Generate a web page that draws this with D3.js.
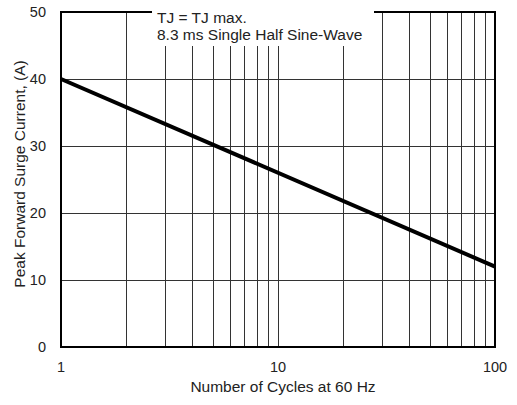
<!DOCTYPE html>
<html>
<head>
<meta charset="utf-8">
<script src="https://cdn.jsdelivr.net/npm/d3@7"></script>
<style>
  body { margin: 0; background: #fff; }
  text { font-family: "Liberation Sans", Arial, sans-serif; fill: #222; }
</style>
</head>
<body>
<div id="chart"></div>
<script>
// values
const cycles = [1, 100];
const current = [40, 12];
const yTicks = [0, 10, 20, 30, 40, 50];
const xTickLabels = [1, 10, 100];
const gridX = [2, 3, 4, 5, 6, 7, 8, 9, 10, 20, 30, 40, 50, 60, 70, 80, 90];
const noteLines = ['TJ = TJ max.', '8.3 ms Single Half Sine-Wave'];

const width = 517, height = 405;
const margin = {top: 12, right: 22, bottom: 58, left: 61};
const w = width - margin.left - margin.right;
const h = height - margin.top - margin.bottom;

const svg = d3.select('#chart').append('svg')
  .attr('width', width)
  .attr('height', height);

const g = svg.append('g')
  .attr('transform', `translate(${margin.left},${margin.top})`);

const x = d3.scaleLog().domain([1, 100]).range([0, w]);
const y = d3.scaleLinear().domain([0, 50]).range([h, 0]);

// grid
g.selectAll('.gx').data(gridX).join('line')
  .attr('class', 'gx')
  .attr('x1', d => Math.round(x(d)) + 0.5).attr('x2', d => Math.round(x(d)) + 0.5)
  .attr('y1', 0).attr('y2', h)
  .attr('stroke', '#333').attr('stroke-width', 1);

g.selectAll('.gy').data(yTicks.slice(1, -1)).join('line')
  .attr('class', 'gy')
  .attr('x1', 0).attr('x2', w)
  .attr('y1', d => Math.round(y(d)) + 0.5).attr('y2', d => Math.round(y(d)) + 0.5)
  .attr('stroke', '#333').attr('stroke-width', 1);

// frame
g.append('rect')
  .attr('width', w).attr('height', h)
  .attr('fill', 'none').attr('stroke', '#000').attr('stroke-width', 2);

// note box covering the grid
const boxL = 91, boxR = 313;
g.append('rect')
  .attr('x', boxL).attr('y', -2)
  .attr('width', boxR - boxL).attr('height', 36)
  .attr('fill', '#fff');

g.selectAll('.note').data(noteLines).join('text')
  .attr('class', 'note')
  .attr('x', boxL + 5)
  .attr('y', (d, i) => 11 + i * 17)
  .attr('font-size', 15.5)
  .text(d => d);

// data line
const line = d3.line()
  .x(d => x(d[0]))
  .y(d => y(d[1]));

g.append('path')
  .datum(d3.zip(cycles, current))
  .attr('d', line)
  .attr('fill', 'none')
  .attr('stroke', '#000')
  .attr('stroke-width', 4);

// tick labels
g.selectAll('.yl').data(yTicks).join('text')
  .attr('class', 'yl')
  .attr('x', -15)
  .attr('y', d => y(d))
  .attr('dy', '0.35em')
  .attr('text-anchor', 'end')
  .attr('font-size', 14.5)
  .text(d => d);

g.selectAll('.xl').data(xTickLabels).join('text')
  .attr('class', 'xl')
  .attr('x', d => x(d))
  .attr('y', h + 25)
  .attr('text-anchor', 'middle')
  .attr('font-size', 14.5)
  .text(d => d);

// axis titles
svg.append('text')
  .attr('x', margin.left + w / 2 + 5)
  .attr('y', 392)
  .attr('text-anchor', 'middle')
  .attr('font-size', 15.5)
  .text('Number of Cycles at 60 Hz');

svg.append('text')
  .attr('transform', `translate(25,174) rotate(-90)`)
  .attr('text-anchor', 'middle')
  .attr('font-size', 15.5)
  .text('Peak Forward Surge Current, (A)');
</script>
</body>
</html>
